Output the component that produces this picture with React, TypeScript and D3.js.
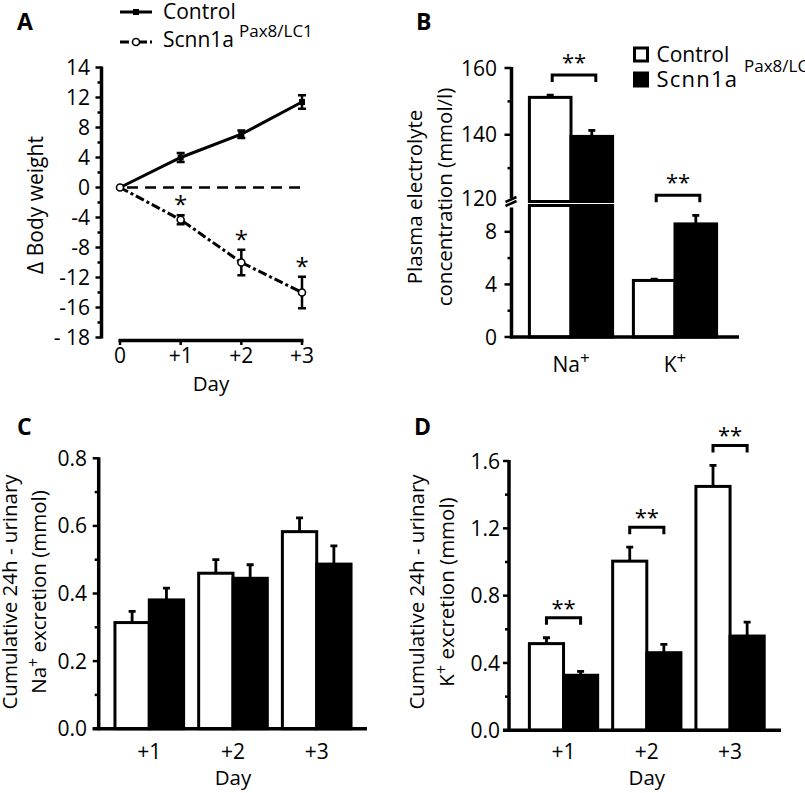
import React from 'react';
import * as d3 from 'd3';

// ---------- Data ----------
// Panel A: change in body weight
const days = [0, 1, 2, 3];
const dayTickLabels = ['0', '+1', '+2', '+3'];
const controlWeight = [0, 4.0, 7.1, 11.4];
const controlWeightErr = [0, 0.6, 0.5, 0.9];
const scnnWeight = [0, -4.3, -10.0, -14.0];
const scnnWeightErr = [0, 0.6, 1.7, 2.1];
const weightStars = [false, true, true, true];
const weightTickValues = [-20, -16, -12, -8, -4, 0, 4, 8, 12, 16];
const weightTickLabels = ['- 18', '-16', '-12', '-8', '-4', '0', '4', '8', '12', '14'];

// Panel B: plasma electrolytes
const electrolytes = ['Na', 'K'];
const plasmaControl = [151.2, 4.3];
const plasmaControlErr = [0.7, 0.1];
const plasmaScnn = [139.5, 8.6];
const plasmaScnnErr = [1.8, 0.65];
const plasmaUpperTicks = [120, 140, 160];
const plasmaUpperMinor = [130, 150];
const plasmaLowerTicks = [0, 4, 8];
const plasmaLowerMinor = [2, 6];

// Panel C: Na+ excretion
const excretionDays = ['+1', '+2', '+3'];
const naControl = [0.314, 0.46, 0.583];
const naControlErr = [0.033, 0.04, 0.041];
const naScnn = [0.381, 0.445, 0.487];
const naScnnErr = [0.035, 0.04, 0.054];
const naTicks = [0, 0.2, 0.4, 0.6, 0.8];
const naMinor = [0.1, 0.3, 0.5, 0.7];

// Panel D: K+ excretion
const kControl = [0.515, 1.005, 1.449];
const kControlErr = [0.035, 0.083, 0.125];
const kScnn = [0.327, 0.461, 0.56];
const kScnnErr = [0.023, 0.049, 0.083];
const kTicks = [0, 0.4, 0.8, 1.2, 1.6];
const kMinor = [0.2, 0.6, 1.0, 1.4];
const kSignificant = [true, true, true];

const groups = ['control', 'scnn'];
const F = "'Open Sans', 'DejaVu Sans', sans-serif";
const AX = 3.5;
const TICK_FS = 21;
const LEG_FS = 21;
const TITLE_FS = 20.5;

function Stars({ x, cy, n }: { x: number; cy: number; n: number }) {
  return (
    <text x={x} y={cy + 13} fontSize={22} textAnchor="middle">
      {'*'.repeat(n)}
    </text>
  );
}

function Bracket({ x1, x2, top }: { x1: number; x2: number; top: number }) {
  return (
    <path d={`M${x1},${top + 7}V${top}H${x2}V${top + 7}`} fill="none" stroke="#000" strokeWidth={3} />
  );
}

function PanelA() {
  const x = d3.scaleLinear().domain([0, 3]).range([120, 302]);
  const y = d3.scaleLinear().domain([-20, 16]).range([337.5, 67.5]);
  const line = d3.line<number>().x((_, i) => x(days[i])).y((d) => y(d));
  const minor = weightTickValues.slice(0, -1).map((v) => v + 2);
  const axX = 101.5;
  return (
    <g>
      <text x={17} y={30} fontSize={23} fontWeight="bold">A</text>
      {/* legend */}
      <line x1={120} x2={152} y1={12} y2={12} stroke="#000" strokeWidth={3} />
      <rect x={133} y={9} width={6} height={6} fill="#000" />
      <text x={163} y={19} fontSize={LEG_FS}>Control</text>
      <line x1={120} x2={152} y1={42} y2={42} stroke="#000" strokeWidth={3} strokeDasharray="9,3,3,3" />
      <circle cx={136} cy={42} r={3.5} fill="#fff" stroke="#000" strokeWidth={1.6} />
      <text x={163} y={47} fontSize={LEG_FS}>Scnn1a</text>
      <text x={239} y={37} fontSize={17}>Pax8/LC1</text>

      {/* y axis */}
      <line x1={axX} x2={axX} y1={y(16) - 1} y2={y(-20) + 1} stroke="#000" strokeWidth={AX} />
      {weightTickValues.map((v, i) => (
        <g key={v}>
          <line x1={axX - 6} x2={axX} y1={y(v)} y2={y(v)} stroke="#000" strokeWidth={2.5} />
          <text x={90} y={y(v)} dy="0.36em" fontSize={TICK_FS} textAnchor="end">{weightTickLabels[i]}</text>
        </g>
      ))}
      {minor.map((v) => (
        <line key={v} x1={axX - 4} x2={axX} y1={y(v)} y2={y(v)} stroke="#000" strokeWidth={2.5} />
      ))}
      <text transform={`translate(43,205) rotate(-90)`} fontSize={21} textAnchor="middle">Δ Body weight</text>

      {/* x axis */}
      <line x1={x(0) - 1.5} x2={x(3) + 1.5} y1={340.5} y2={340.5} stroke="#000" strokeWidth={AX} />
      {days.map((d, i) => (
        <g key={d}>
          <line x1={x(d)} x2={x(d)} y1={340.5} y2={345} stroke="#000" strokeWidth={2.5} />
          <text x={x(d)} y={363} fontSize={TICK_FS} textAnchor="middle">{dayTickLabels[i]}</text>
        </g>
      ))}
      <text x={211} y={391} fontSize={TITLE_FS} textAnchor="middle">Day</text>

      {/* zero reference */}
      <line x1={x(0) + 7} x2={x(3)} y1={y(0)} y2={y(0)} stroke="#000" strokeWidth={2.5} strokeDasharray="11,7" />

      {/* control */}
      <path d={line(controlWeight) || ''} fill="none" stroke="#000" strokeWidth={3} />
      {controlWeight.map((v, i) =>
        i > 0 ? (
          <g key={i}>
            <path
              d={`M${x(days[i])},${y(v - controlWeightErr[i])}V${y(v + controlWeightErr[i])}M${x(days[i]) - 4},${y(v - controlWeightErr[i])}h8M${x(days[i]) - 4},${y(v + controlWeightErr[i])}h8`}
              stroke="#000" strokeWidth={2.5} fill="none"
            />
            <rect x={x(days[i]) - 3} y={y(v) - 3} width={6} height={6} fill="#000" />
          </g>
        ) : null
      )}

      {/* scnn */}
      <path d={line(scnnWeight) || ''} fill="none" stroke="#000" strokeWidth={3} strokeDasharray="9,3,3,3" />
      {scnnWeight.map((v, i) => (
        <g key={i}>
          {i > 0 && (
            <path
              d={`M${x(days[i])},${y(v - scnnWeightErr[i])}V${y(v + scnnWeightErr[i])}M${x(days[i]) - 4},${y(v - scnnWeightErr[i])}h8M${x(days[i]) - 4},${y(v + scnnWeightErr[i])}h8`}
              stroke="#000" strokeWidth={2.5} fill="none"
            />
          )}
          <circle cx={x(days[i])} cy={y(v)} r={3.5} fill="#fff" stroke="#000" strokeWidth={1.6} />
          {weightStars[i] && (
            <text x={x(days[i])} y={y(v + scnnWeightErr[i]) - 2} fontSize={24} textAnchor="middle">*</text>
          )}
        </g>
      ))}
    </g>
  );
}

function PanelB() {
  const x0 = d3.scaleBand<string>().domain(electrolytes).range([519, 727]).paddingInner(0.2).paddingOuter(0.1);
  const x1 = d3.scaleBand<string>().domain(groups).range([0, x0.bandwidth()]);
  const yU = d3.scaleLinear().domain([120, 160]).range([201.5, 68]);
  const yL = d3.scaleLinear().domain([0, 10]).range([337, 205.5]);
  const yv = (v: number) => (v > 10 ? yU(v) : yL(v));
  const axX = 511.5;
  const bw = x1.bandwidth();
  const series = [
    { key: 'control', vals: plasmaControl, errs: plasmaControlErr, fill: '#fff' },
    { key: 'scnn', vals: plasmaScnn, errs: plasmaScnnErr, fill: '#000' },
  ];
  return (
    <g>
      <text x={416} y={30} fontSize={23} fontWeight="bold">B</text>
      {/* legend */}
      <rect x={634.5} y={48} width={13} height={13} fill="#fff" stroke="#000" strokeWidth={3} />
      <text x={656.5} y={62} fontSize={LEG_FS}>Control</text>
      <rect x={633} y={71.5} width={16} height={16} fill="#000" />
      <text x={656.5} y={87} fontSize={22} letterSpacing={1.2}>Scnn1a</text>
      <text x={744} y={72} fontSize={17}>Pax8/LC1</text>

      {/* bars */}
      {series.map((s) =>
        electrolytes.map((c, i) => {
          const bx = (x0(c) || 0) + (x1(s.key) || 0);
          const v = s.vals[i];
          const e = s.errs[i];
          const cx = bx + bw / 2;
          return (
            <g key={s.key + c}>
              <path d={`M${cx},${yv(v)}V${yv(v + e)}M${cx - 3.5},${yv(v + e)}h7`} stroke="#000" strokeWidth={2.8} fill="none" />
              {v > 10 ? (
                <>
                  <rect x={bx} y={yU(v)} width={bw} height={yU(120) - yU(v)} fill={s.fill} stroke="#000" strokeWidth={3} />
                  <rect x={bx} y={yL(10)} width={bw} height={yL(0) - yL(10)} fill={s.fill} stroke="#000" strokeWidth={3} />
                </>
              ) : (
                <rect x={bx} y={yL(v)} width={bw} height={yL(0) - yL(v)} fill={s.fill} stroke="#000" strokeWidth={3} />
              )}
            </g>
          );
        })
      )}
      {/* significance */}
      {electrolytes.map((c, i) => {
        const xc = (x0(c) || 0) + (x1('control') || 0) + bw / 2 + 2;
        const xs = (x0(c) || 0) + (x1('scnn') || 0) + bw / 2 + 4;
        const top = Math.min(yv(plasmaControl[i] + plasmaControlErr[i]), yv(plasmaScnn[i] + plasmaScnnErr[i])) - 20;
        return (
          <g key={c}>
            <Bracket x1={xc} x2={xs} top={top} />
            <Stars x={(xc + xs) / 2} cy={top - 18} n={2} />
          </g>
        );
      })}

      {/* y axis */}
      <line x1={axX} x2={axX} y1={yU(160) - 1} y2={yU(120) - 3} stroke="#000" strokeWidth={AX} />
      <line x1={axX} x2={axX} y1={yL(10) + 2} y2={yL(0) + 1.5} stroke="#000" strokeWidth={AX} />
      <path d={`M${axX - 6},${yU(120) + 0.5}L${axX + 5},${yU(120) - 4.5}M${axX - 6},${yL(10) + 0.5}L${axX + 5},${yL(10) - 4.5}`} stroke="#000" strokeWidth={2.5} />
      {plasmaUpperTicks.map((v) => (
        <g key={'u' + v}>
          {v !== 120 && <line x1={axX - 7} x2={axX} y1={yU(v)} y2={yU(v)} stroke="#000" strokeWidth={2.5} />}
          <text x={497} y={v === 120 ? yU(v) - 3.5 : yU(v)} dy="0.36em" fontSize={TICK_FS} textAnchor="end">{v}</text>
        </g>
      ))}
      {plasmaUpperMinor.map((v) => (
        <line key={'um' + v} x1={axX - 4} x2={axX} y1={yU(v)} y2={yU(v)} stroke="#000" strokeWidth={2.5} />
      ))}
      {plasmaLowerTicks.map((v) => (
        <g key={'l' + v}>
          <line x1={axX - 7} x2={axX} y1={yL(v)} y2={yL(v)} stroke="#000" strokeWidth={2.5} />
          <text x={497} y={yL(v)} dy="0.36em" fontSize={TICK_FS} textAnchor="end">{v}</text>
        </g>
      ))}
      {plasmaLowerMinor.map((v) => (
        <line key={'lm' + v} x1={axX - 4} x2={axX} y1={yL(v)} y2={yL(v)} stroke="#000" strokeWidth={2.5} />
      ))}
      <text transform={`translate(422,197) rotate(-90)`} fontSize={TITLE_FS} textAnchor="middle">Plasma electrolyte</text>
      <text transform={`translate(452,197) rotate(-90)`} fontSize={TITLE_FS} textAnchor="middle">concentration (mmol/l)</text>

      {/* x axis */}
      <line x1={axX - 1.5} x2={739} y1={337} y2={337} stroke="#000" strokeWidth={AX} />
      {electrolytes.map((c) => (
        <text key={c} x={(x0(c) || 0) + x0.bandwidth() / 2} y={371.5} fontSize={TICK_FS} textAnchor="middle">
          {c}
          <tspan dy={-8} fontSize={17}>+</tspan>
        </text>
      ))}
    </g>
  );
}

function ExcretionPanel(props: {
  letter: string;
  ox: number;
  axX: number;
  rangeX: [number, number];
  xEnd: number;
  yRange: [number, number];
  yMax: number;
  ticks: number[];
  minor: number[];
  fmt: string;
  ctrl: number[];
  ctrlErr: number[];
  scnn: number[];
  scnnErr: number[];
  sig: boolean[] | null;
  ion: string;
  label1X: number;
  label2X: number;
  labelX: number;
}) {
  const p = props;
  const x0 = d3.scaleBand<string>().domain(excretionDays).range(p.rangeX).paddingInner(0.18).paddingOuter(0.15);
  const x1 = d3.scaleBand<string>().domain(groups).range([0, x0.bandwidth()]);
  const y = d3.scaleLinear().domain([0, p.yMax]).range(p.yRange);
  const bw = x1.bandwidth();
  const fmt = d3.format(p.fmt);
  const series = [
    { key: 'control', vals: p.ctrl, errs: p.ctrlErr, fill: '#fff' },
    { key: 'scnn', vals: p.scnn, errs: p.scnnErr, fill: '#000' },
  ];
  const y0 = y(0);
  return (
    <g>
      <text x={p.ox + 17} y={435} fontSize={23} fontWeight="bold">{p.letter}</text>
      {series.map((s) =>
        excretionDays.map((d, i) => {
          const bx = (x0(d) || 0) + (x1(s.key) || 0);
          const v = s.vals[i];
          const e = s.errs[i];
          const cx = bx + bw / 2;
          return (
            <g key={s.key + d}>
              <path d={`M${cx},${y(v)}V${y(v + e)}M${cx - 3.5},${y(v + e)}h7`} stroke="#000" strokeWidth={2.8} fill="none" />
              <rect x={bx} y={y(v)} width={bw} height={y0 - y(v)} fill={s.fill} stroke="#000" strokeWidth={3} />
            </g>
          );
        })
      )}
      {p.sig &&
        excretionDays.map((d, i) => {
          if (!p.sig || !p.sig[i]) return null;
          const xc = (x0(d) || 0) + (x1('control') || 0) + bw / 2;
          const xs = (x0(d) || 0) + (x1('scnn') || 0) + bw / 2;
          const top = Math.min(y(p.ctrl[i] + p.ctrlErr[i]), y(p.scnn[i] + p.scnnErr[i])) - 20;
          return (
            <g key={d}>
              <Bracket x1={xc} x2={xs} top={top} />
              <Stars x={(xc + xs) / 2} cy={top - 15} n={2} />
            </g>
          );
        })}
      {/* y axis */}
      <line x1={p.axX} x2={p.axX} y1={y(p.yMax) - 1} y2={y0 + 1.5} stroke="#000" strokeWidth={AX} />
      {p.ticks.map((v) => (
        <g key={v}>
          <line x1={p.axX - 6} x2={p.axX} y1={y(v)} y2={y(v)} stroke="#000" strokeWidth={2.5} />
          <text x={p.labelX} y={y(v)} dy="0.36em" fontSize={TICK_FS} textAnchor="end">{fmt(v)}</text>
        </g>
      ))}
      {p.minor.map((v) => (
        <line key={v} x1={p.axX - 4} x2={p.axX} y1={y(v)} y2={y(v)} stroke="#000" strokeWidth={2.5} />
      ))}
      <text transform={`translate(${p.label1X},592) rotate(-90)`} fontSize={TITLE_FS} textAnchor="middle">Cumulative 24h - urinary</text>
      <text transform={`translate(${p.label2X},592) rotate(-90)`} fontSize={TITLE_FS} textAnchor="middle">
        {p.ion}
        <tspan dy={-7} fontSize={16}>+</tspan>
        <tspan dy={7}> excretion (mmol)</tspan>
      </text>
      {/* x axis */}
      <line x1={p.axX - 6} x2={p.xEnd} y1={y0} y2={y0} stroke="#000" strokeWidth={AX} />
      {excretionDays.map((d) => (
        <text key={d} x={(x0(d) || 0) + x0.bandwidth() / 2} y={759} fontSize={TICK_FS} textAnchor="middle">{d}</text>
      ))}
      <text x={(x0(excretionDays[1]) || 0) + x0.bandwidth() / 2} y={785} fontSize={TITLE_FS} textAnchor="middle">Day</text>
    </g>
  );
}

export default function App() {
  return (
    <svg
      width={805}
      height={793}
      style={{ position: 'absolute', left: 0, top: 0, background: '#fff' }}
      fontFamily={F}
    >
      <rect width={805} height={793} fill="#fff" />
      <PanelA />
      <PanelB />
      <ExcretionPanel
        letter="C" ox={0} axX={98.7} rangeX={[102.4, 363.6]} xEnd={367}
        yRange={[728.7, 458.3]} yMax={0.8} ticks={naTicks} minor={naMinor} fmt=".1f"
        ctrl={naControl} ctrlErr={naControlErr} scnn={naScnn} scnnErr={naScnnErr}
        sig={null} ion="Na" label1X={17} label2X={46} labelX={87}
      />
      <ExcretionPanel
        letter="D" ox={397} axX={509} rangeX={[516.9, 776.7]} xEnd={781}
        yRange={[730.3, 461]} yMax={1.6} ticks={kTicks} minor={kMinor} fmt=".1f"
        ctrl={kControl} ctrlErr={kControlErr} scnn={kScnn} scnnErr={kScnnErr}
        sig={kSignificant} ion="K" label1X={424} label2X={454} labelX={500}
      />
    </svg>
  );
}
